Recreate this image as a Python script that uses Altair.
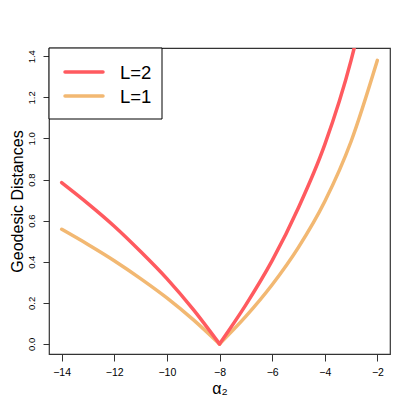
import altair as alt
import pandas as pd

x_red = [-14, -13, -12, -11, -10, -9, -8, -7, -6, -5, -4, -3, -2.88]
y_red = [0.785, 0.683, 0.573, 0.45, 0.318, 0.168, 0.0, 0.19, 0.405, 0.663, 0.97, 1.38, 1.44]
x_org = [-14, -13, -12, -11, -10, -9, -8, -7, -6, -5, -4, -3, -2]
y_org = [0.558, 0.484, 0.405, 0.318, 0.224, 0.118, 0.0, 0.134, 0.288, 0.47, 0.693, 0.985, 1.38]
series_names = ["L=2", "L=1"]
colors = ["#FF5A5F", "#F2B872"]
x_ticks = [-14, -12, -10, -8, -6, -4, -2]
y_ticks = [0.0, 0.2, 0.4, 0.6, 0.8, 1.0, 1.2, 1.4]

W, H = 341, 306
FONT = "Liberation Sans"


def build(xs, ys, name):
    rows = []
    for x, y in zip(xs, ys):
        if x <= -8:
            rows.append({"x": x, "y": y, "L": name, "seg": "left"})
        if x >= -8:
            rows.append({"x": x, "y": y, "L": name, "seg": "right"})
    return pd.DataFrame(rows)


df_red = build(x_red, y_red, series_names[0])
df_org = build(x_org, y_org, series_names[1])

xscale = alt.Scale(domain=[-14.48, -1.52], nice=False, zero=False)
yscale = alt.Scale(domain=[-0.049, 1.44], nice=False, zero=False)
cscale = alt.Scale(domain=series_names, range=colors)

xenc = alt.X("x:Q", scale=xscale, title="α₂",
             axis=alt.Axis(values=x_ticks, format="d", domain=False, grid=False,
                           tickSize=7, labelPadding=6, labelFontSize=10.5,
                           titleFontSize=16, titlePadding=3, titleFontWeight="normal"))
yenc = alt.Y("y:Q", scale=yscale, title="Geodesic Distances",
             axis=alt.Axis(values=y_ticks, format=".1f", domain=False, grid=False,
                           tickSize=6, labelAngle=270, labelAlign="center",
                           labelBaseline="bottom", labelPadding=7, labelFontSize=9.5,
                           titleFontSize=16, titlePadding=1, titleFontWeight="normal"))
cenc = alt.Color("L:N", scale=cscale, legend=None)

org = alt.Chart(df_org).mark_line(strokeWidth=3.5, strokeCap="round", clip=True,
                                  interpolate="monotone").encode(
    x=xenc, y=yenc, color=cenc, detail="seg:N")
red = alt.Chart(df_red).mark_line(strokeWidth=3.5, strokeCap="round", clip=True,
                                  interpolate="monotone").encode(
    x=xenc, y=yenc, color=cenc, detail="seg:N")

# manual legend (box in top-left corner of the plot)
leg_df = pd.DataFrame({"L": series_names})
box = alt.Chart(leg_df.head(1)).mark_rect(fill="white", stroke="black", strokeWidth=1).encode(
    x=alt.value(0), x2=alt.value(113), y=alt.value(0), y2=alt.value(71))
layers = [org, red, box]
for i, (name, col) in enumerate(zip(series_names, colors)):
    d = leg_df.iloc[[i]]
    yy = 24 + 24 * i
    layers.append(alt.Chart(d).mark_rule(strokeWidth=3.5, strokeCap="round", color=col).encode(
        x=alt.value(16), x2=alt.value(54), y=alt.value(yy)))
    layers.append(alt.Chart(d).mark_text(align="left", baseline="middle", fontSize=18.5,
                                         font=FONT, color="black").encode(
        x=alt.value(71), y=alt.value(yy + 1), text="L:N"))

chart = alt.layer(*layers).properties(
    width=W, height=H,
    autosize=alt.AutoSizeParams(type="none"),
    padding={"left": 41, "top": 40, "right": 17, "bottom": 53},
    background="white",
).configure_view(stroke="#333333", strokeWidth=1.2).configure_axis(
    labelFont=FONT, titleFont=FONT,
    labelColor="black", titleColor="black", tickColor="#333333"
)

chart.save("out.html", embed_options={"renderer": "svg", "actions": False})
